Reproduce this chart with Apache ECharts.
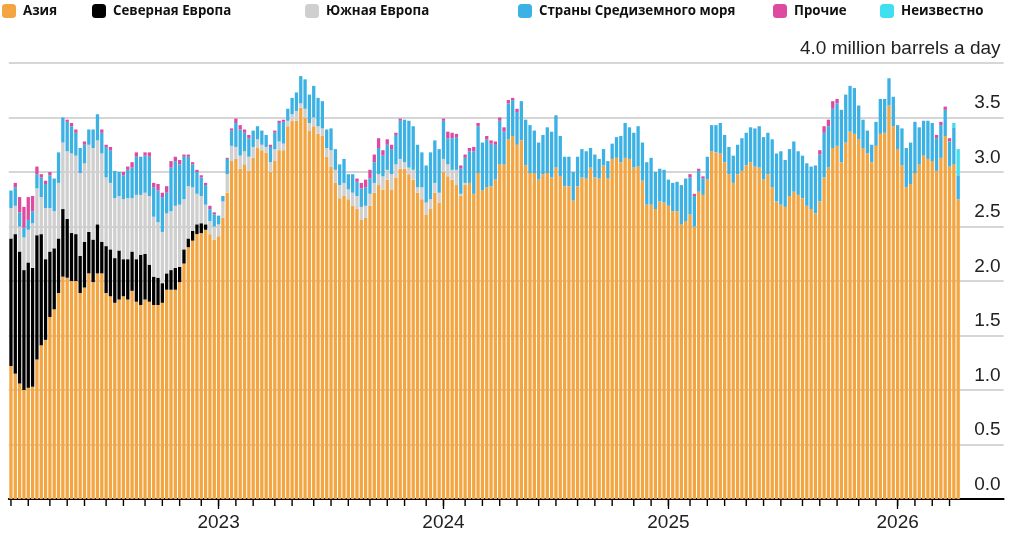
<!DOCTYPE html>
<html>
<head>
<meta charset="utf-8">
<script src="https://cdn.jsdelivr.net/npm/echarts@6/dist/echarts.min.js"></script>
<style>
html,body{margin:0;padding:0;background:#fff;}
#chart{width:1021px;height:541px;}
</style>
</head>
<body>
<div id="chart"></div>
<script>
// Weekly observations, first week ending 2022-01-30, 220 weeks
const firstWeek = '2022-01-30';
const weekCount = 220;
const axisWeekCount = 230; // axis runs on past the last week, under the right-hand labels

const seriesNames = ['Азия', 'Северная Европа', 'Южная Европа', 'Страны Средиземного моря', 'Прочие', 'Неизвестно'];

const asia = [
1.22,1.15,1.06,1.00,1.02,1.03,1.28,1.41,1.46,1.67,
1.74,1.89,2.04,2.03,2.00,2.00,1.89,1.94,2.07,1.99,
2.07,2.07,1.89,1.86,1.80,1.83,1.86,1.83,1.91,1.81,
1.78,1.83,1.81,1.78,1.78,1.80,1.92,1.92,1.92,1.99,
2.16,2.31,2.37,2.43,2.44,2.47,2.43,2.38,2.41,2.58,
2.81,3.10,3.12,3.03,3.07,3.01,3.13,3.22,3.20,3.18,
3.00,3.10,3.20,3.20,3.42,3.47,3.47,3.59,3.50,3.38,
3.42,3.35,3.33,3.14,3.05,2.90,2.76,2.78,2.75,2.69,
2.66,2.56,2.58,2.69,2.81,2.88,2.84,2.93,2.84,2.95,
3.03,3.03,2.98,2.93,2.81,2.75,2.61,2.66,2.81,2.72,
3.00,2.96,2.93,2.88,2.78,2.88,2.90,2.80,2.99,2.83,
2.86,2.87,2.93,3.07,3.07,3.30,3.33,3.25,3.29,3.06,
2.99,2.99,2.93,2.98,2.99,2.95,3.04,2.96,2.87,2.87,
2.74,2.87,2.95,2.94,3.04,2.95,2.94,3.06,2.94,3.12,
3.13,3.09,3.13,3.12,3.04,3.05,2.92,2.70,2.70,2.66,
2.73,2.72,2.69,2.64,2.64,2.52,2.55,2.61,2.50,2.82,
2.79,2.93,3.19,3.18,3.17,3.09,2.98,2.90,2.98,3.01,
3.06,3.09,3.05,3.04,2.93,2.98,2.86,2.73,2.70,2.68,
2.78,2.82,2.79,2.76,2.69,2.66,2.62,2.73,2.95,3.04,
3.22,3.24,3.09,3.27,3.37,3.35,3.30,3.22,3.17,3.09,
3.24,3.35,3.36,3.61,3.42,3.21,3.06,2.86,2.89,2.99,
3.07,3.15,3.12,3.10,3.01,3.13,3.33,3.05,3.07,2.75
];

const northEurope = [
1.17,1.28,1.21,1.10,1.15,1.09,1.14,1.02,0.74,0.60,
0.56,0.50,0.62,0.54,0.44,0.43,0.34,0.42,0.38,0.39,
0.45,0.29,0.43,0.43,0.41,0.45,0.34,0.37,0.36,0.39,
0.46,0.42,0.34,0.26,0.25,0.18,0.15,0.18,0.20,0.14,
0.13,0.08,0.09,0.09,0.09,0.05,0,0,0,0,
0,0,0,0,0,0,0,0,0,0,
0,0,0,0,0,0,0,0,0,0,
0,0,0,0,0,0,0,0,0,0,
0,0,0,0,0,0,0,0,0,0,
0,0,0,0,0,0,0,0,0,0,
0,0,0,0,0,0,0,0,0,0,
0,0,0,0,0,0,0,0,0,0,
0,0,0,0,0,0,0,0,0,0,
0,0,0,0,0,0,0,0,0,0,
0,0,0,0,0,0,0,0,0,0,
0,0,0,0,0,0,0,0,0,0,
0,0,0,0,0,0,0,0,0,0,
0,0,0,0,0,0,0,0,0,0,
0,0,0,0,0,0,0,0,0,0,
0,0,0,0,0,0,0,0,0,0,
0,0,0,0,0,0,0,0,0,0,
0,0,0,0,0,0,0,0,0,0
];

const southEurope = [
0.28,0.26,0.23,0.30,0.30,0.41,0.43,0.34,0.47,0.40,
0.34,0.51,0.61,0.62,0.73,0.72,0.76,0.72,0.80,0.84,
0.77,0.81,0.63,0.61,0.55,0.50,0.55,0.56,0.49,0.59,
0.55,0.56,0.63,0.55,0.51,0.47,0.55,0.54,0.57,0.57,
0.46,0.48,0.40,0.28,0.25,0.18,0.12,0.12,0.11,0.15,
0.17,0.14,0.11,0.12,0.12,0.13,0.10,0.08,0.05,0.05,
0.09,0.11,0.08,0.06,0.05,0.06,0.09,0.04,0.08,0.07,
0.08,0.07,0.07,0.08,0.15,0.12,0.12,0.12,0.09,0.12,
0.12,0.12,0.11,0.11,0.09,0.10,0.12,0.09,0.14,0.12,
0.09,0.06,0.06,0.09,0.05,0.11,0.11,0.09,0.09,0.09,
0.12,0.11,0.09,0.14,0.02,0.02,0,0,0,0,
0,0,0,0,0,0,0,0,0,0,
0,0,0,0,0,0,0,0,0,0,
0,0,0,0,0,0,0,0,0,0,
0,0,0,0,0,0,0,0,0,0,
0,0,0,0,0,0,0,0,0,0,
0,0,0,0,0,0,0,0,0,0,
0,0,0,0,0,0,0,0,0,0,
0,0,0,0,0,0,0,0,0,0,
0,0,0,0,0,0,0,0,0,0,
0,0,0,0,0,0,0,0,0,0,
0,0,0,0,0,0,0,0,0,0
];

const mediterranean = [
0.16,0.17,0.13,0.09,0.09,0.11,0.13,0.18,0.22,0.30,
0.30,0.28,0.23,0.27,0.25,0.21,0.23,0.17,0.14,0.17,
0.24,0.19,0.28,0.30,0.25,0.22,0.22,0.26,0.28,0.35,
0.35,0.34,0.36,0.27,0.29,0.32,0.19,0.40,0.41,0.37,
0.39,0.27,0.21,0.20,0.17,0.18,0.11,0.11,0.08,0.05,
0.14,0.14,0.22,0.24,0.17,0.17,0.15,0.12,0.13,0.11,
0.14,0.15,0.17,0.20,0.11,0.15,0.17,0.25,0.27,0.26,
0.29,0.26,0.25,0.17,0.20,0.19,0.19,0.22,0.14,0.17,
0.13,0.17,0.17,0.14,0.19,0.24,0.19,0.23,0.23,0.27,
0.35,0.39,0.43,0.40,0.39,0.32,0.34,0.43,0.39,0.40,
0.35,0.24,0.29,0.30,0.23,0.23,0.29,0.39,0.43,0.44,
0.44,0.39,0.32,0.40,0.30,0.33,0.33,0.30,0.36,0.42,
0.44,0.39,0.34,0.36,0.42,0.42,0.48,0.37,0.27,0.27,
0.26,0.27,0.26,0.25,0.18,0.21,0.18,0.15,0.16,0.14,
0.19,0.24,0.32,0.29,0.32,0.37,0.35,0.39,0.43,0.34,
0.30,0.30,0.24,0.26,0.27,0.36,0.39,0.34,0.28,0.19,
0.15,0.21,0.24,0.25,0.28,0.25,0.25,0.25,0.27,0.30,
0.30,0.32,0.35,0.38,0.39,0.38,0.44,0.44,0.49,0.43,
0.43,0.46,0.40,0.39,0.39,0.39,0.44,0.43,0.41,0.38,
0.36,0.39,0.48,0.44,0.42,0.42,0.31,0.26,0.21,0.16,
0.22,0.32,0.31,0.25,0.27,0.22,0.34,0.36,0.38,0.47,
0.34,0.32,0.35,0.35,0.30,0.30,0.24,0.23,0.34,0.22
];

const others = [
0,0.04,0.14,0.19,0.21,0.14,0.07,0.03,0.03,0.03,
0,0,0,0.02,0.03,0.03,0,0.03,0,0,
0,0.03,0.02,0.03,0,0,0.03,0.03,0.05,0.04,
0,0.03,0.04,0.04,0.06,0.04,0.06,0.06,0.04,0.04,
0.02,0.02,0.02,0.02,0.02,0.02,0.03,0.02,0,0,
0.01,0.02,0.04,0.04,0.03,0.03,0,0,0,0,
0.02,0.02,0.02,0.02,0,0,0,0,0,0,
0,0,0,0,0,0,0,0,0,0,
0.03,0.05,0.07,0.08,0.07,0.09,0.05,0.05,0.04,0.02,
0.02,0,0,0,0,0,0,0,0,0,
0.02,0.06,0.05,0.03,0.03,0.03,0.03,0.04,0.03,0,
0.03,0.03,0.03,0.03,0.04,0.03,0.02,0.03,0,0,
0,0,0,0,0,0,0,0,0,0,
0,0,0,0,0,0,0,0,0,0,
0,0,0,0,0,0,0,0,0,0,
0,0,0,0,0,0,0,0.03,0.02,0.02,
0.02,0,0,0,0,0,0,0,0,0,
0,0,0,0,0,0,0,0,0,0,
0,0,0,0,0,0,0,0.04,0.06,0.06,
0.07,0.04,0,0,0,0,0,0,0,0,
0,0,0,0,0,0,0,0,0,0,
0,0,0,0,0.03,0.03,0.03,0.03,0,0
];

const unknown = [
0,0,0,0,0,0,0,0,0,0,
0,0,0,0,0,0,0,0,0,0,
0,0,0,0,0,0,0,0,0,0,
0,0,0,0,0,0,0,0,0,0,
0,0,0,0,0,0,0,0,0,0,
0,0,0,0,0,0,0,0,0,0,
0,0,0,0,0,0,0,0,0,0,
0,0,0,0,0,0,0,0,0,0,
0,0,0,0,0,0,0,0,0,0,
0,0,0,0,0,0,0,0,0,0,
0,0,0,0,0,0,0,0,0,0,
0,0,0,0,0,0,0,0,0,0,
0,0,0,0,0,0,0,0,0,0,
0,0,0,0,0,0,0,0,0,0,
0,0,0,0,0,0,0,0,0,0,
0,0,0,0,0,0,0,0,0,0,
0,0,0,0,0,0,0,0,0,0,
0,0,0,0,0,0,0,0,0,0,
0,0,0,0,0,0,0,0,0,0,
0,0,0,0,0,0,0,0,0,0,
0,0,0,0,0,0,0,0,0,0,
0,0,0,0,0,0,0,0,0.04,0.24
];

const yearLabels = ['2023', '2024', '2025', '2026'];
const firstTickMonth = '2022-02';
const lastTickMonth = '2026-04';
const yTickValues = [0, 0.5, 1, 1.5, 2, 2.5, 3, 3.5, 4];
const unitLabel = 'million barrels a day';

// ---------- build ----------
const DAY = 86400000;
const WEEK = 7 * DAY;
const t0 = Date.parse(firstWeek + 'T00:00:00Z');
const weeks = [];
for (let i = 0; i < axisWeekCount; i++) weeks.push(new Date(t0 + i * WEEK).toISOString().slice(0, 10));

// weekly category nearest to each month start (monthly tick marks)
const monthTickIdx = [];
{
  let y = +firstTickMonth.slice(0, 4), m = +firstTickMonth.slice(5, 7) - 1;
  const ly = +lastTickMonth.slice(0, 4), lm = +lastTickMonth.slice(5, 7) - 1;
  while (y < ly || (y === ly && m <= lm)) {
    monthTickIdx.push(Math.round((Date.UTC(y, m, 1) - t0) / WEEK));
    m++; if (m > 11) { m = 0; y++; }
  }
}
const yearIdx = new Map();
yearLabels.forEach(s => yearIdx.set(Math.round((Date.UTC(+s, 0, 1) - t0) / WEEK), s));

const colors = ['#f2a541', '#000000', '#cfcfcf', '#3cb1e4', '#dd4aa0', '#3fdff0'];
const valueSets = [asia, northEurope, southEurope, mediterranean, others, unknown];

const series = seriesNames.map((name, k) => ({
  name: name,
  type: 'bar',
  stack: 'total',
  xAxisIndex: 0,
  barWidth: 3.3,
  itemStyle: { color: colors[k] },
  emphasis: { disabled: true },
  data: valueSets[k]
}));

// monthly tick marks just below the axis line, positioned by the x axis scale
series.push({
  name: 'monthTicks',
  type: 'scatter',
  xAxisIndex: 0,
  yAxisIndex: 0,
  silent: true,
  clip: false,
  z: 10,
  symbol: 'rect',
  symbolSize: [1.4, 6],
  symbolOffset: [0, 4],
  itemStyle: { color: '#000', opacity: 1 },
  emphasis: { disabled: true },
  data: monthTickIdx.map(i => [i, 0])
});

const legendLeft = [2, 92, 305, 518, 773, 880];
const legends = seriesNames.map((name, k) => ({
  data: [name],
  left: legendLeft[k],
  top: 4,
  icon: 'roundRect',
  itemWidth: 14,
  itemHeight: 14,
  padding: 0,
  selectedMode: false,
  textStyle: {
    fontFamily: 'Open Sans',
    fontWeight: 'bold',
    fontSize: 13.3,
    color: '#111',
    padding: [2, 0, 0, 2]
  }
}));

const option = {
  animation: false,
  backgroundColor: '#ffffff',
  legend: legends,
  grid: { left: 8.8, right: 17.4, top: 63, bottom: 42, containLabel: false },
  xAxis: [
    {
      type: 'category',
      position: 'bottom',
      data: weeks,
      boundaryGap: true,
      axisLine: { show: true, onZero: false, lineStyle: { color: '#000', width: 2 } },
      axisTick: { show: false },
      axisLabel: {
        show: true,
        margin: 14,
        interval: (i) => yearIdx.has(i),
        fontFamily: 'Liberation Sans',
        fontSize: 19,
        color: '#222',
        formatter: (v, i) => yearIdx.get(i) || ''
      },
      splitLine: { show: false }
    },
    {
      type: 'category',
      position: 'bottom',
      data: weeks,
      boundaryGap: true,
      axisLine: { show: false },
      axisTick: {
        show: true, length: 10, alignWithLabel: true,
        interval: (i) => yearIdx.has(i),
        lineStyle: { color: '#000', width: 1.3 }
      },
      axisLabel: { show: false },
      splitLine: { show: false }
    }
  ],
  yAxis: {
    type: 'value',
    position: 'right',
    min: yTickValues[0],
    max: yTickValues[yTickValues.length - 1],
    interval: yTickValues[1] - yTickValues[0],
    axisLine: { show: false },
    axisTick: { show: false },
    splitLine: { show: true, lineStyle: { color: '#c9c9c9', width: 1.5 } },
    axisLabel: {
      inside: true,
      margin: 3,
      verticalAlign: 'bottom',
      padding: [0, 0, 5, 0],
      fontFamily: 'Liberation Sans',
      fontSize: 19,
      color: '#222',
      formatter: function (v) {
        return v === 4 ? v.toFixed(1) + ' ' + unitLabel : v.toFixed(1);
      }
    }
  },
  series: series
};

const chart = echarts.init(document.getElementById('chart'), null, { renderer: 'canvas' });
chart.setOption(option);
</script>
</body>
</html>
